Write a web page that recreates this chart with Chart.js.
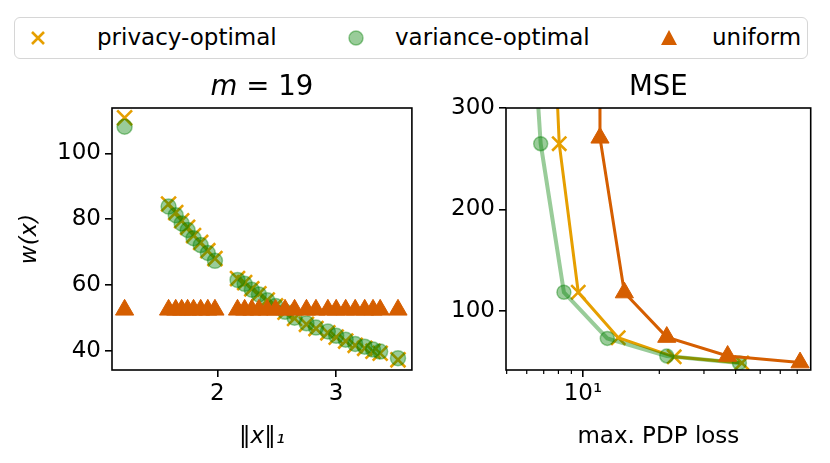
<!DOCTYPE html>
<html>
<head>
<meta charset="utf-8">
<script src="https://cdn.jsdelivr.net/npm/chart.js@4.4.0/dist/chart.umd.min.js"></script>
<style>
  body { margin: 0; background: #fff; width: 830px; height: 463px; position: relative; overflow: hidden; font-family: "DejaVu Sans", sans-serif; }
  canvas { position: absolute; top: 60px; }
  #left { left: 0; }
  #right { left: 425px; }
  #legend { position: absolute; left: 14px; top: 17px; width: 794px; height: 42px; box-sizing: border-box;
            border: 1.5px solid #d6d6d6; border-radius: 6px; }
  .mk { position: absolute; top: 10px; }
  .lbl { position: absolute; top: 6px; font-size: 23px; line-height: 27px; color: #000; white-space: nowrap; }
</style>
</head>
<body>
<div id="legend">
  <svg class="mk" style="left:13px" width="20" height="20"><path d="M4 4 L16 16 M16 4 L4 16" stroke="#E69F00" stroke-width="2.6"/></svg>
  <span class="lbl" style="left:82px">privacy-optimal</span>
  <svg class="mk" style="left:331px" width="20" height="20"><circle cx="10" cy="10" r="7" fill="rgba(0,128,0,0.4)" stroke="rgba(0,128,0,0.4)" stroke-width="1.5"/></svg>
  <span class="lbl" style="left:380px">variance-optimal</span>
  <svg class="mk" style="left:644px" width="20" height="20"><path d="M10 2 L18 17 L2 17 Z" fill="#D55E00"/></svg>
  <span class="lbl" style="left:697px">uniform</span>
</div>
<canvas id="left" width="425" height="403"></canvas>
<canvas id="right" width="405" height="403"></canvas>
<script>
// left panel: weights per ||x||_1 (m = 19)
const normX = [1.22, 1.59, 1.65, 1.70, 1.75, 1.80, 1.86, 1.92, 1.98, 2.17, 2.23, 2.29, 2.35, 2.42,
               2.49, 2.57, 2.65, 2.75, 2.83, 2.93, 3.00, 3.08, 3.16, 3.24, 3.31, 3.37, 3.52];
const privacyW = [110.8, 84.6, 82.0, 79.5, 77.5, 75.0, 72.9, 70.4, 68.0, 61.9, 60.7, 58.8, 57.3, 55.4,
                  53.6, 51.7, 49.8, 48.0, 46.7, 45.4, 44.1, 42.9, 41.6, 40.7, 39.8, 39.2, 37.2];
const varianceW = [108.1, 83.8, 81.2, 78.7, 76.7, 74.2, 72.1, 69.7, 67.3, 61.5, 60.3, 58.5, 57.1, 55.3,
                   53.6, 51.8, 50.0, 48.3, 47.0, 45.8, 44.5, 43.3, 42.0, 41.2, 40.3, 39.7, 37.7];
const uniformW = [52.4, 52.4, 52.4, 52.4, 52.4, 52.4, 52.4, 52.4, 52.4, 52.4, 52.4, 52.4, 52.4, 52.4,
                  52.4, 52.4, 52.4, 52.4, 52.4, 52.4, 52.4, 52.4, 52.4, 52.4, 52.4, 52.4, 52.4];
const normTicks = [2, 3];
const weightTicks = [40, 60, 80, 100];

// right panel: MSE vs max. PDP loss
const privacyLoss = [6.76, 8.06, 9.58, 13.77, 22.9, 42.3];
const privacyMse = [700, 264.8, 118.2, 73.3, 54.5, 48.5];
const varianceLoss = [5.24, 6.81, 8.41, 12.47, 21.4, 41.4];
const varianceMse = [700, 264.8, 118.2, 72.7, 55.4, 48.5];
const uniformLoss = [11.6, 11.67, 14.56, 21.4, 37.2, 71.8];
const uniformMse = [700, 270.6, 117.9, 74.0, 55.3, 48.8];
const lossTicks = [10];
const lossTickLabels = ['10¹'];
const lossMinorTicks = [5, 6, 7, 8, 9, 20, 30, 40, 50, 60, 70];
const mseTicks = [100, 200, 300];

const ORANGE = '#E69F00', GREEN = 'rgba(0,128,0,0.4)', RED = '#D55E00';

Chart.defaults.font.family = '"DejaVu Sans", sans-serif';
Chart.defaults.font.size = 23;
Chart.defaults.color = '#000';

const pts = (xs, ys) => xs.map((x, i) => ({ x: x, y: ys[i] }));

const framePlugin = {
  id: 'frame',
  afterDatasetsDraw(chart) {
    const { ctx, chartArea: a } = chart;
    ctx.save();
    ctx.strokeStyle = '#000';
    ctx.lineWidth = 1.6;
    ctx.strokeRect(a.left, a.top, a.right - a.left, a.bottom - a.top);
    ctx.restore();
  }
};

const titlePlugin = {
  id: 'panelTitle',
  afterDraw(chart, args, opts) {
    const { ctx, chartArea: a } = chart;
    ctx.save();
    ctx.fillStyle = '#000';
    ctx.textBaseline = 'alphabetic';
    const fam = '"DejaVu Sans", sans-serif';
    let total = 0;
    opts.parts.forEach(p => { ctx.font = (p.italic ? 'italic ' : '') + '27.6px ' + fam; total += ctx.measureText(p.text).width; });
    let x = (a.left + a.right) / 2 - total / 2;
    opts.parts.forEach(p => {
      ctx.font = (p.italic ? 'italic ' : '') + '27.6px ' + fam;
      ctx.fillText(p.text, x, opts.baseline);
      x += ctx.measureText(p.text).width;
    });
    ctx.restore();
  }
};

const minorTickPlugin = {
  id: 'minorTicks',
  afterDraw(chart) {
    const { ctx, chartArea: a } = chart;
    const s = chart.scales.x;
    ctx.save();
    ctx.strokeStyle = '#000';
    ctx.lineWidth = 1.2;
    lossMinorTicks.forEach(v => {
      const px = s.getPixelForValue(v);
      ctx.beginPath();
      ctx.moveTo(px, a.bottom);
      ctx.lineTo(px, a.bottom + 4);
      ctx.stroke();
    });
    ctx.restore();
  }
};

const tickGrid = { drawOnChartArea: false, drawTicks: true, tickLength: 7, color: '#000', lineWidth: 1.6 };

new Chart(document.getElementById('left'), {
  type: 'scatter',
  data: {
    datasets: [
      { label: 'privacy-optimal', data: pts(normX, privacyW), order: 3, pointStyle: 'crossRot', pointRadius: 10.5,
        pointBorderColor: ORANGE, pointBorderWidth: 2.6, pointBackgroundColor: ORANGE },
      { label: 'variance-optimal', data: pts(normX, varianceW), order: 2, pointStyle: 'circle', pointRadius: 7.5,
        pointBorderColor: GREEN, pointBorderWidth: 1.5, pointBackgroundColor: GREEN },
      { label: 'uniform', data: pts(normX, uniformW), order: 1, pointStyle: 'triangle', pointRadius: 10.5,
        pointBorderColor: RED, pointBorderWidth: 1, pointBackgroundColor: RED }
    ]
  },
  options: {
    responsive: false, animation: false, events: [], devicePixelRatio: 1,
    layout: { padding: { top: 48, right: 7, left: 0, bottom: 0 } },
    plugins: { legend: { display: false }, tooltip: { enabled: false },
      panelTitle: { baseline: 35, parts: [{ text: 'm', italic: true }, { text: ' = 19', italic: false }] } },
    scales: {
      x: { type: 'linear', min: 1.114, max: 3.637,
        afterBuildTicks: s => { s.ticks = normTicks.map(v => ({ value: v })); },
        afterFit: s => { s.height = 93; },
        grid: tickGrid, border: { display: false },
        ticks: { autoSkip: false, maxRotation: 0, padding: 3 },
        title: { display: true, text: '‖x‖₁', font: { size: 23, style: 'italic' }, padding: { top: 0, bottom: 12 } } },
      y: { type: 'linear', min: 34.1, max: 113.8,
        afterBuildTicks: s => { s.ticks = weightTicks.map(v => ({ value: v })); },
        afterFit: s => { s.width = 112; },
        grid: tickGrid, border: { display: false },
        ticks: { autoSkip: false, padding: 4 },
        title: { display: true, text: 'w(x)', font: { size: 23, style: 'italic' }, padding: { top: 16, bottom: 0 } } }
    }
  },
  plugins: [framePlugin, titlePlugin]
});

new Chart(document.getElementById('right'), {
  type: 'scatter',
  data: {
    datasets: [
      { label: 'privacy-optimal', data: pts(privacyLoss, privacyMse), order: 3, showLine: true,
        borderColor: ORANGE, borderWidth: 3, pointStyle: 'crossRot', pointRadius: 10,
        pointBorderColor: ORANGE, pointBorderWidth: 2.6, pointBackgroundColor: ORANGE },
      { label: 'variance-optimal', data: pts(varianceLoss, varianceMse), order: 2, showLine: true,
        borderColor: GREEN, borderWidth: 4, pointStyle: 'circle', pointRadius: 7,
        pointBorderColor: GREEN, pointBorderWidth: 1.5, pointBackgroundColor: GREEN },
      { label: 'uniform', data: pts(uniformLoss, uniformMse), order: 1, showLine: true,
        borderColor: RED, borderWidth: 3, pointStyle: 'triangle', pointRadius: 10.5,
        pointBorderColor: RED, pointBorderWidth: 1, pointBackgroundColor: RED }
    ]
  },
  options: {
    responsive: false, animation: false, events: [], devicePixelRatio: 1,
    layout: { padding: { top: 48, right: 19.3, left: 0, bottom: 0 } },
    plugins: { legend: { display: false }, tooltip: { enabled: false },
      panelTitle: { baseline: 35, parts: [{ text: 'MSE', italic: false }] } },
    scales: {
      x: { type: 'logarithmic', min: 4.97, max: 79.1,
        afterBuildTicks: s => { s.ticks = lossTicks.map(v => ({ value: v })); },
        afterFit: s => { s.height = 93; },
        grid: tickGrid, border: { display: false },
        ticks: { autoSkip: false, maxRotation: 0, padding: 3, callback: (v, i) => lossTickLabels[i] },
        title: { display: true, text: 'max. PDP loss', font: { size: 23 }, padding: { top: 0, bottom: 12 } } },
      y: { type: 'linear', min: 41.5, max: 300,
        afterBuildTicks: s => { s.ticks = mseTicks.map(v => ({ value: v })); },
        afterFit: s => { s.width = 81; },
        grid: tickGrid, border: { display: false },
        ticks: { autoSkip: false, padding: 4 } }
    }
  },
  plugins: [framePlugin, titlePlugin, minorTickPlugin]
});
</script>
</body>
</html>
